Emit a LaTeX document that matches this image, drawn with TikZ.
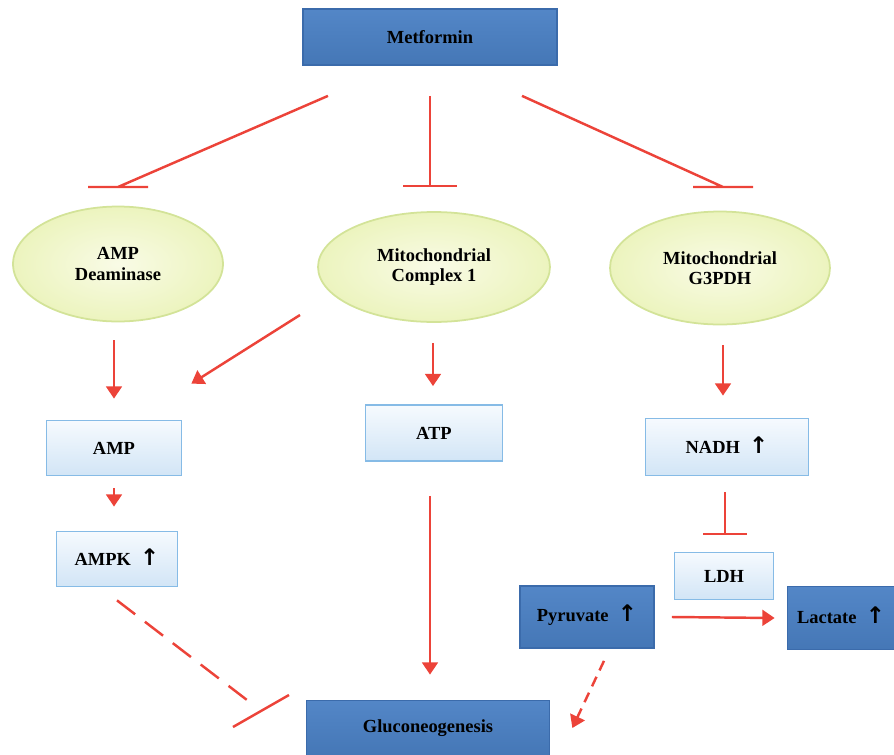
\documentclass[tikz,border=0pt]{standalone}
\usepackage{fontspec}
\setmainfont{Liberation Serif}
\newfontfamily\symfont{DejaVu Sans}
\usetikzlibrary{arrows.meta,calc,shapes.geometric}
\definecolor{boxblue}{HTML}{4A80C4}
\definecolor{boxedge}{HTML}{3B6BAB}
\definecolor{paletop}{HTML}{F6FAFE}
\definecolor{palebot}{HTML}{D2E5F6}
\definecolor{paleedge}{HTML}{86BBE6}
\definecolor{ovalin}{HTML}{F9FBE6}
\definecolor{ovalout}{HTML}{ECF4BE}
\definecolor{ovaledge}{HTML}{D3E398}
\definecolor{linkred}{HTML}{EC4339}
\begin{document}
\begin{tikzpicture}[x=0.02cm,y=-0.02cm,font=\fontsize{10.5}{11.5}\selectfont\bfseries,
    darkbox/.style={draw=boxedge,line width=1pt,top color=boxblue!95!white,bottom color=boxblue!93!black,minimum height=1.12cm},
    palebox/.style={draw=paleedge,line width=1pt,top color=paletop,bottom color=palebot,minimum height=1.1cm},
    oval/.style={ellipse,draw=ovaledge,line width=1pt,inner color=ovalin,outer color=ovalout,align=center},
    act/.style={draw=linkred,line width=1.4pt,-{Triangle[width=9pt,length=7pt]}},
    inh/.style={draw=linkred,line width=1.4pt}]
    \def\up{\enspace\smash{\symfont\fontsize{13}{13}\selectfont ↑}}
    \useasboundingbox (0,0) rectangle (894,755);
    %===========================================
    \node[darkbox,minimum width=5.08cm] (Met) at (430,37) {Metformin};
    \node[oval,minimum width=4.2cm,minimum height=2.3cm] (AD) at (118,264) {AMP\\Deaminase};
    \node[oval,minimum width=4.64cm,minimum height=2.2cm] (MC) at (434,267) {Mitochondrial\\Complex 1};
    \node[oval,minimum width=4.4cm,minimum height=2.26cm] (GP) at (720,268) {Mitochondrial\\G3PDH};
    \node[palebox,minimum width=2.7cm] (AMP) at (114,448) {AMP};
    \node[palebox,minimum width=2.74cm,minimum height=1.12cm] (ATP) at (434,433) {ATP};
    \node[palebox,minimum width=3.26cm,minimum height=1.14cm] (NADH) at (727,447) {NADH\up};
    \node[palebox,minimum width=2.42cm] (AMPK) at (117,559) {AMPK\up};
    \node[palebox,minimum width=1.98cm,minimum height=0.94cm] (LDH) at (724,576) {LDH};
    \node[darkbox,minimum width=2.68cm,minimum height=1.24cm] (Pyr) at (587,617) {Pyruvate\up};
    \node[darkbox,minimum width=2.14cm,minimum height=1.26cm] (Lac) at (841,618) {Lactate\up};
    \node[darkbox,minimum width=4.86cm,minimum height=1.1cm] (Glu) at (428,728) {Gluconeogenesis};
    %===========================================
    \coordinate (bAD) at (118,187);
    \coordinate (bMC) at (430,186);
    \coordinate (bGP) at (723,187);
    \coordinate (bLDH) at (725,534);
    \coordinate (bGlu) at (261,711);
    \draw[inh] ($(Met.south)+(-102,30)$) -- (bAD) ++(-30,0) -- ++(60,0);
    \draw[inh] ($(Met.south)+(0,30)$) -- (bMC) ++(-27,0) -- ++(54,0);
    \draw[inh] ($(Met.south)+(92,30)$) -- (bGP) ++(-30,0) -- ++(60,0);
    \draw[inh] ($(NADH.south)+(-2,16)$) -- (bLDH) ++(-22,0) -- ++(44,0);
    \draw[inh,dash pattern=on 13pt off 7pt] ($(AMPK.south)+(0,13)$) -- ($(bGlu)+(-14,-11)$);
    \draw[inh] (bGlu) ++(-28,16) -- ++(56,-32);
    \draw[act] ($(AMP.north |- AD.south)+(0,18)$) -- ($(AMP.north)+(0,-21)$);
    \draw[act] ($(MC.center)+(-134,48)$) -- ($(AMP.north east)+(9,-36)$);
    \draw[act] ($(MC.south)+(-1,20)$) -- ($(ATP.north)+(-1,-18)$);
    \draw[act] ($(GP.south)+(3,20)$) -- ($(NADH.north)+(-4,-22)$);
    \draw[act] ($(AMP.south)+(0,12)$) -- ($(AMPK.north)+(-3,-24)$);
    \draw[act] ($(ATP.south)+(-4,34)$) -- ($(Glu.north)+(2,-25)$);
    \draw[act] ($(Pyr.east)+(17,0)$) -- ($(Lac.west)+(-12,0)$);
    \draw[act,dash pattern=on 6pt off 4pt] ($(Pyr.south)+(17,12)$) -- ($(Glu.east)+(22,0)$);
\end{tikzpicture}
\end{document}
